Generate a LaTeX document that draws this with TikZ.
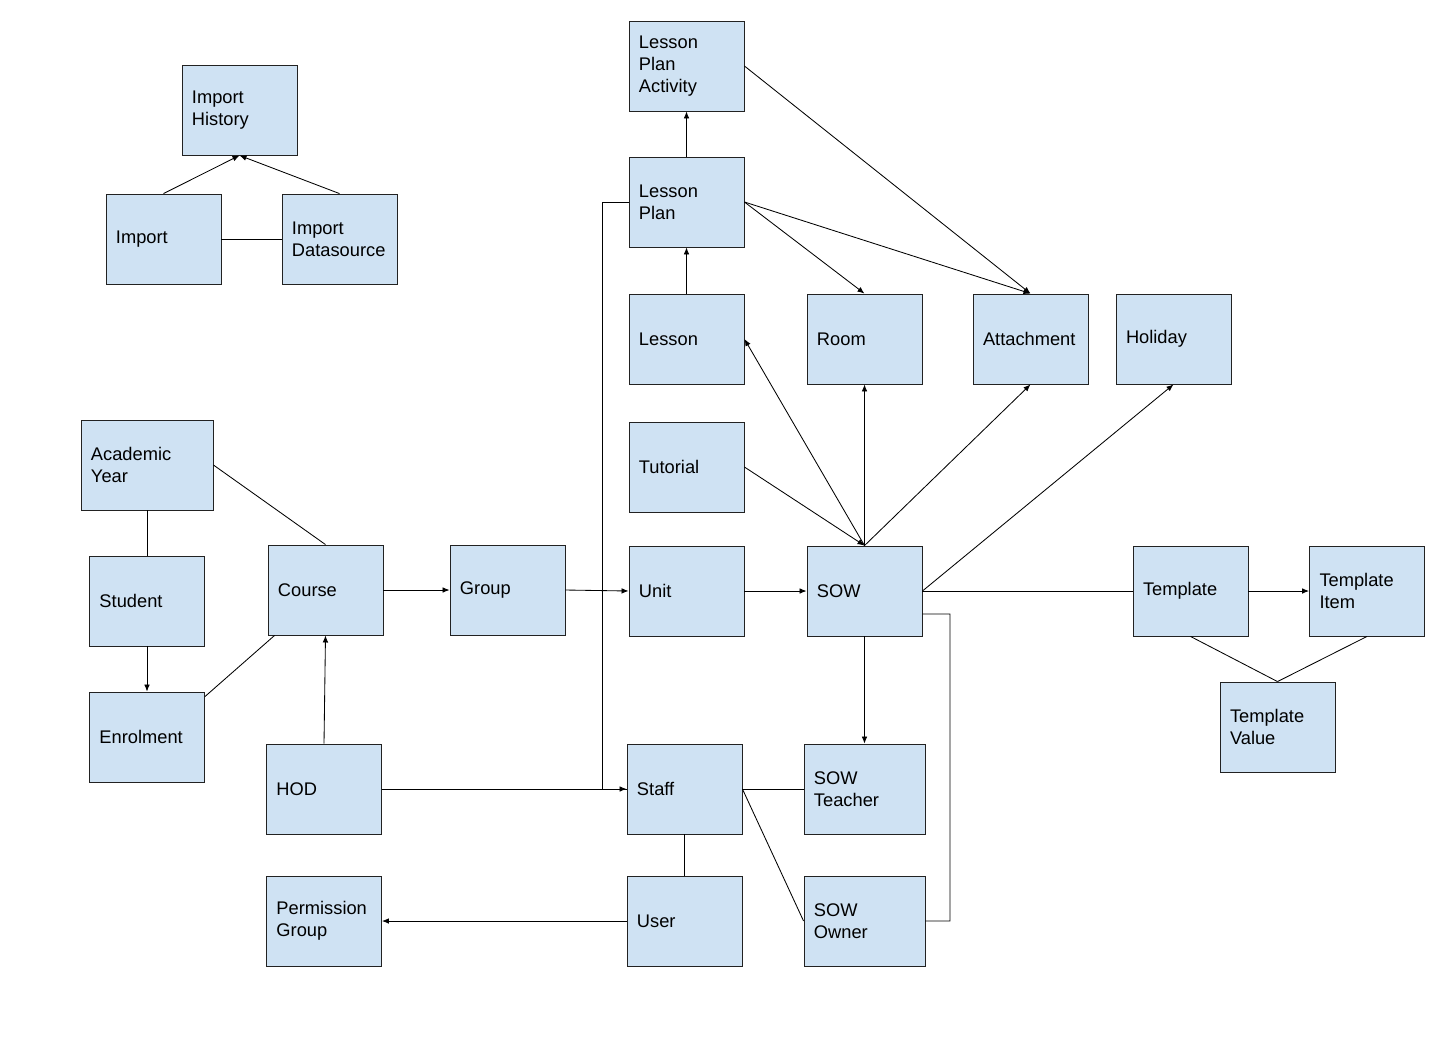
\documentclass[tikz,border=0pt]{standalone}
\usepackage{fontspec}
\setmainfont{Liberation Sans}
\usetikzlibrary{arrows.meta, positioning}
\definecolor{boxblue}{HTML}{CFE2F3}
\definecolor{lineblack}{HTML}{222222}

\begin{document}
\begin{tikzpicture}[x=0.025cm, y=-0.025cm, >={Latex[length=5pt,width=4pt]},
    line width=0.6pt,
    box/.style={draw=lineblack, fill=boxblue, rectangle,
      text width=2.375cm, inner xsep=0.25cm, minimum height=2.25cm, align=left,
      font=\fontsize{13}{15.5}\selectfont},
    widebox/.style={box, text width=2.8cm},
    midbox/.style={box, text width=2.525cm}]
   \useasboundingbox (0,0) rectangle (1439,1048);
   % import
   \node[box] (ih) at (239.5,110) {Import\\History};
   \node[box] (imp) at (163.5,239) {Import};
   \node[box] (ids) at (339.5,239) {Import\\Datasource};
   % lessons
   \node[box] (lpa) at (686.5,66) {Lesson\\Plan\\Activity};
   \node[box] (lp) at (686.5,202) {Lesson\\Plan};
   \node[box] (lesson) at (686.5,339) {Lesson};
   \node[box] (room) at (864.5,339) {Room};
   \node[box] (att) at (1030.5,339) {Attachment};
   \node[box] (hol) at (1173.5,339) {Holiday};
   \node[box] (tut) at (686.5,467) {Tutorial};
   % middle row
   \node[widebox] (ay) at (147,465) {Academic\\Year};
   \node[box] (stu) at (147,601) {Student};
   \node[box] (course) at (325.5,590) {Course};
   \node[box] (group) at (507.5,590) {Group};
   \node[box] (unit) at (686.5,591) {Unit};
   \node[box] (sow) at (864.5,591) {SOW};
   \node[box] (tmpl) at (1190.5,591) {Template};
   \node[box] (ti) at (1367,591) {Template\\Item};
   \node[box] (tv) at (1277.5,727) {Template\\Value};
   \node[box] (enr) at (147,737) {Enrolment};
   % staff
   \node[box] (hod) at (324,789) {HOD};
   \node[box] (staff) at (684.5,789) {Staff};
   \node[midbox] (sowt) at (864.5,789) {SOW\\Teacher};
   \node[box] (pg) at (324,921) {Permission\\Group};
   \node[box] (user) at (684.5,921) {User};
   \node[midbox] (sowo) at (864.5,921) {SOW\\Owner};

   \draw[->] (imp.north) -- (ih.south);
   \draw[->] (ids.north) -- (ih.south);
   \draw (imp.east) -- (ids.west);
   \draw[->] (lp.north) -- (lpa.south);
   \draw[->] (lesson.north) -- (lp.south);
   \draw[->] (lpa.east) -- (att.north);
   \draw[->] (lp.east) -- (room.north);
   \draw[->] (lp.east) -- (att.north);
   \draw (lp.west) -- (602,202) |- (staff.west);
   \draw[->] (sow.north) -- (lesson.east);
   \draw[->] (sow.north) -- (room.south);
   \draw[->] (sow.north) -- (att.south);
   \draw[->] (tut.east) -- (sow.north);
   \draw[->] (sow.east) -- (hol.south);
   \draw (sow.east) -- (tmpl.west);
   \draw[->] (tmpl.east) -- (ti.west);
   \draw (tmpl.south) -- (tv.north);
   \draw (ti.south) -- (tv.north);
   \draw[->] (unit.east) -- (sow.west);
   \draw[->] (group.east) -- (unit.west);
   \draw[->] (course.east) -- (group.west);
   \draw (ay.east) -- (course.north);
   \draw (ay.south) -- (stu.north);
   \draw[->] (stu.south) -- (enr.north);
   \draw ([xshift=0.175cm]course.south west) -- ([yshift=-0.125cm]enr.north east);
   \draw[->] (hod.north) -- (course.south);
   \draw[->] (hod.east) -- (staff.west);
   \draw[->] (sow.south) -- (sowt.north);
   \draw (staff.east) -- (sowt.west);
   \draw (staff.east) -- (sowo.west);
   \draw (staff.south) -- (user.north);
   \draw[->] (user.west) -- (pg.east);
   \draw ([yshift=-0.575cm]sow.east) -- (950,614) |- (sowo.east);
\end{tikzpicture}
\end{document}
